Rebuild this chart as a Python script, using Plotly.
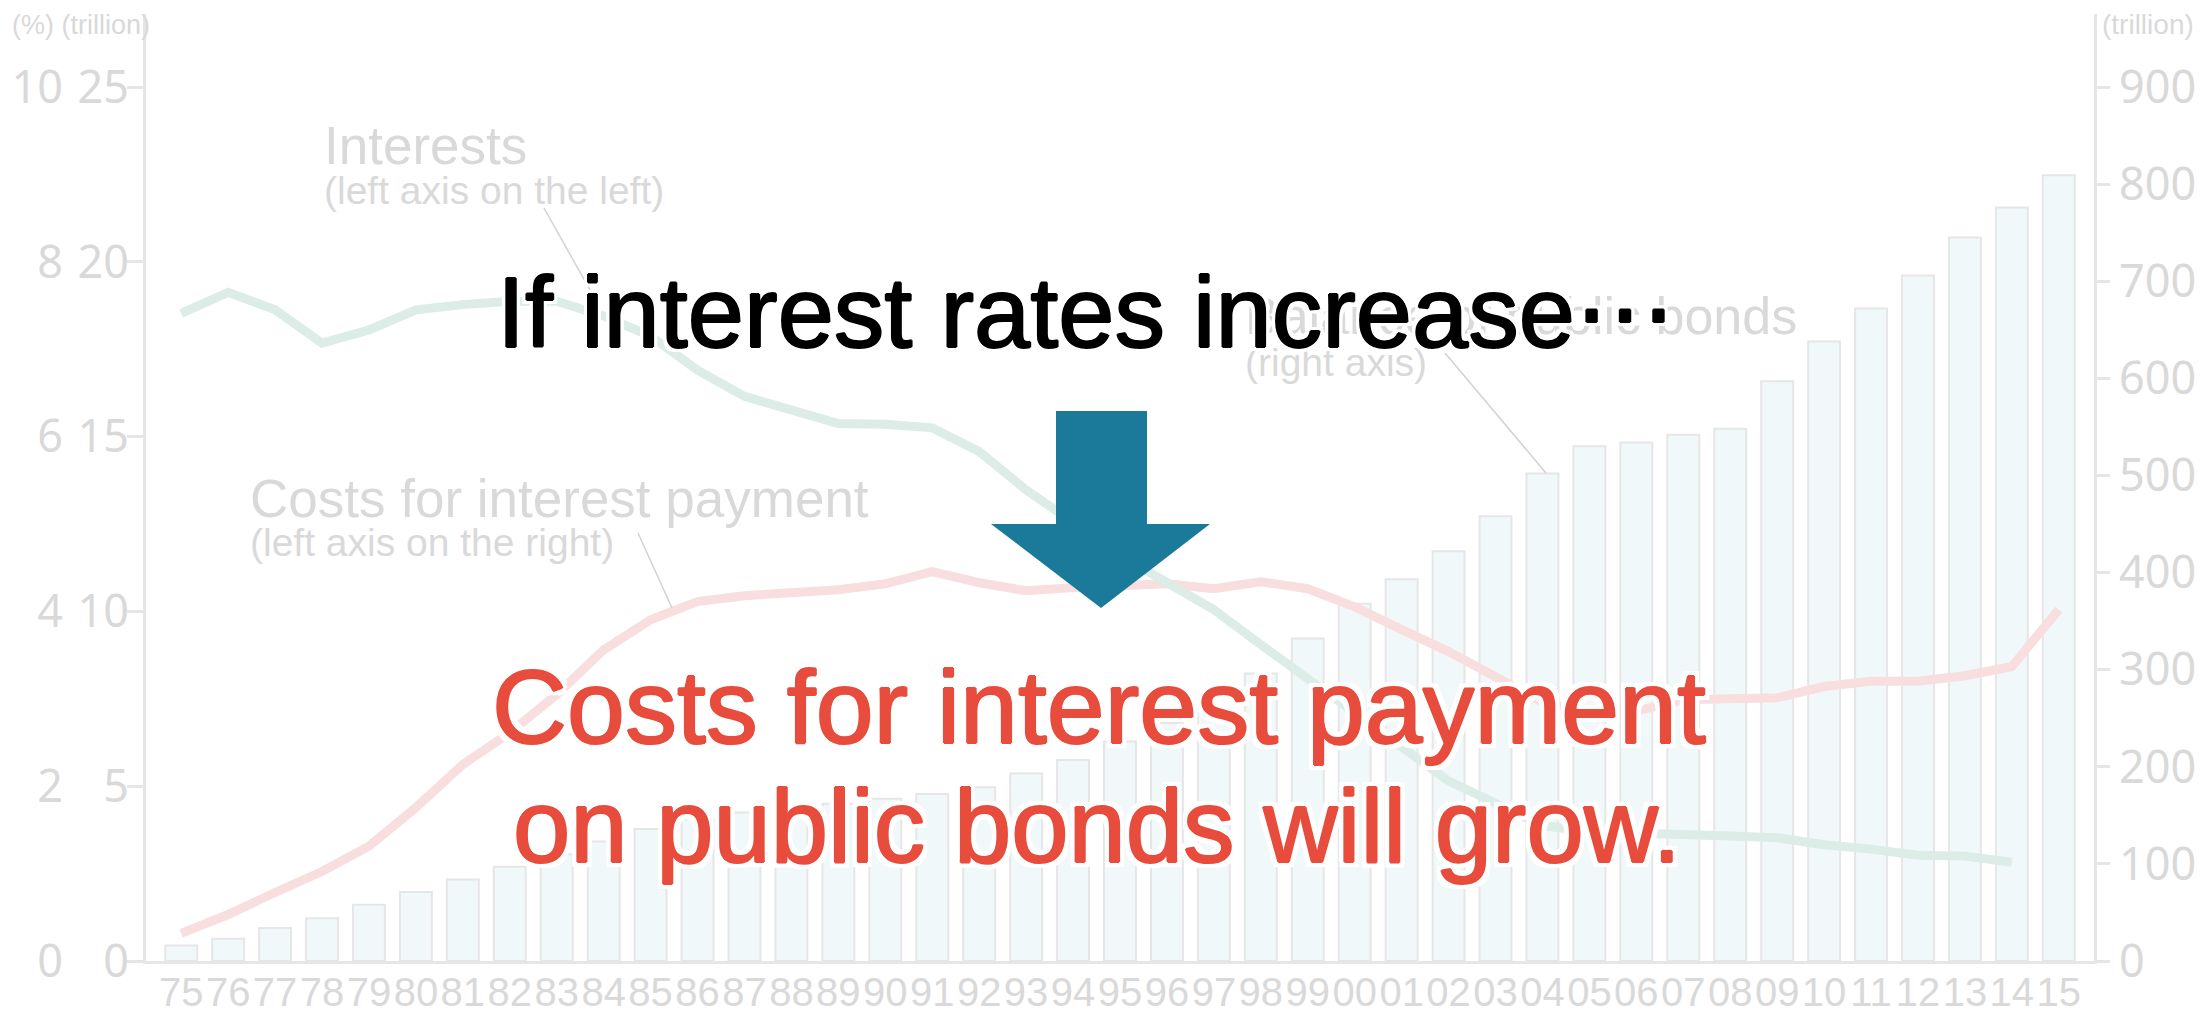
import plotly.graph_objects as go

# ---- data -------------------------------------------------------------
years = ["75", "76", "77", "78", "79", "80", "81", "82", "83", "84",
         "85", "86", "87", "88", "89", "90", "91", "92", "93", "94",
         "95", "96", "97", "98", "99", "00", "01", "02", "03", "04",
         "05", "06", "07", "08", "09", "10", "11", "12", "13", "14", "15"]

# outstanding public bonds, trillion (right axis)
public_bonds = [16, 23, 34, 44, 58, 71, 84, 97, 110, 123,
                136, 146, 153, 158, 162, 167, 172, 179, 193, 207,
                226, 245, 258, 296, 332, 368, 393, 422, 458, 502,
                530, 534, 542, 548, 597, 638, 672, 706, 745, 776, 809]

# average interest rate, % (left axis, left column)
interest_rate = [7.41, 7.65, 7.45, 7.07, 7.22, 7.45, 7.51, 7.55, 7.55, 7.38,
                 7.15, 6.76, 6.46, 6.31, 6.15, 6.14, 6.10, 5.83, 5.39, 5.02,
                 4.65, 4.33, 4.02, 3.62, 3.22, 2.85, 2.45, 2.06, 1.80, 1.55,
                 1.48, 1.47, 1.45, 1.43, 1.41, 1.33, 1.28, 1.21, 1.20, 1.13, None]

# interest payment costs, trillion (left axis, right column)
interest_cost = [0.79, 1.33, 1.96, 2.56, 3.28, 4.39, 5.62, 6.53, 7.62, 8.90,
                 9.76, 10.28, 10.45, 10.53, 10.62, 10.79, 11.14, 10.82, 10.59, 10.68,
                 10.73, 10.79, 10.65, 10.85, 10.65, 10.13, 9.48, 8.85, 8.13, 7.40,
                 7.10, 7.15, 7.47, 7.50, 7.53, 7.85, 8.00, 8.00, 8.16, 8.42, 10.05]

pct_ticks = [0, 2, 4, 6, 8, 10]
trillion_ticks = [0, 5, 10, 15, 20, 25]
bond_ticks = [0, 100, 200, 300, 400, 500, 600, 700, 800, 900]

# ---- geometry ---------------------------------------------------------
W, H = 2201, 1017
ML, MR, MT, MB = 20, 107, 14, 56
PW = W - ML - MR
PH = H - MT - MB
PLOT_LEFT = 146
# headroom above the top tick (top tick sits 874 px above the baseline)
HEAD = PH / 874.0


def px(x):
    return (x - ML) / PW


def py(y):
    return (H - MB - y) / PH


GRAY_TXT = "#d9d9d9"
AXIS = "#e6e6e6"
GREEN = "#dcece6"
PINK = "#f8dede"
BAR_FILL = "#f1f8fa"
BLUE = "#1b7a99"
RED = "#e74c3c"

fig = go.Figure()

fig.add_trace(go.Bar(
    x=years, y=public_bonds, yaxis="y", width=0.68,
    marker=dict(color=BAR_FILL, line=dict(color=AXIS, width=2)),
    showlegend=False, hoverinfo="skip"))

fig.add_trace(go.Scatter(
    x=years, y=interest_cost, yaxis="y2", mode="lines",
    line=dict(color=PINK, width=9), showlegend=False, hoverinfo="skip"))

fig.add_trace(go.Scatter(
    x=years, y=interest_rate, yaxis="y3", mode="lines",
    line=dict(color=GREEN, width=9), showlegend=False, hoverinfo="skip"))

tick_font = dict(family="Noto Sans, Liberation Sans, sans-serif", size=45, color=GRAY_TXT)

fig.update_layout(
    width=W, height=H,
    margin=dict(l=ML, r=MR, t=MT, b=MB, pad=0),
    paper_bgcolor="white", plot_bgcolor="white",
    bargap=0.3,
    xaxis=dict(
        domain=[px(PLOT_LEFT), 1], type="category",
        range=[-0.75, len(years) - 0.25],
        tickmode="array", tickvals=years, ticktext=years, tickangle=0,
        showline=True, linecolor=AXIS, linewidth=3,
        showgrid=False, zeroline=False, ticks="",
        ticklabelstandoff=-6,
        tickfont=dict(family="Liberation Sans, Arial, sans-serif",
                      size=40, color=GRAY_TXT),
        automargin=False),
    yaxis=dict(
        side="right", anchor="x", range=[0, 900 * HEAD],
        tickvals=bond_ticks, ticks="outside", ticklen=13, tickwidth=3,
        tickcolor=AXIS, showline=True, linecolor=AXIS, linewidth=3,
        showgrid=False, zeroline=False, tickfont=tick_font, automargin=False),
    yaxis2=dict(
        side="left", anchor="x", overlaying="y", range=[0, 25 * HEAD],
        tickvals=trillion_ticks, ticks="outside", ticklen=16, tickwidth=3,
        tickcolor=AXIS, showline=True, linecolor=AXIS, linewidth=3,
        ticklabelstandoff=-11,
        showgrid=False, zeroline=False, tickfont=tick_font, automargin=False),
    yaxis3=dict(
        side="left", anchor="free", overlaying="y", position=px(63),
        range=[0, 10 * HEAD], tickvals=pct_ticks, ticks="",
        showline=False, showgrid=False, zeroline=False,
        tickfont=tick_font, automargin=False),
)

shapes = []
# leader lines from the series labels
for (x0, y0, x1, y1) in [(544, 208, 590, 290), (638, 533, 672, 608), (1445, 353, 1546, 473)]:
    shapes.append(dict(type="line", xref="paper", yref="paper",
                       x0=px(x0), y0=py(y0), x1=px(x1), y1=py(y1),
                       line=dict(color="#d2d2d2", width=1.5), layer="above"))

# downward arrow
arrow_pts = [(1056, 411), (1147, 411), (1147, 524), (1210, 524),
             (1101, 608), (991, 524), (1056, 524)]
path = "M " + " L ".join(f"{px(x):.5f},{py(y):.5f}" for x, y in arrow_pts) + " Z"
shapes.append(dict(type="path", xref="paper", yref="paper", path=path,
                   fillcolor=BLUE, line=dict(width=0), layer="above"))
fig.update_layout(shapes=shapes)

label_font = "Liberation Sans, Arial, sans-serif"


def note(text, x, y, size, color, xanchor="left", family=label_font, shadow=None):
    f = dict(family=family, size=size, color=color)
    if shadow:
        f["shadow"] = shadow
    fig.add_annotation(text=text, x=px(x), y=py(y), xref="paper", yref="paper",
                       xanchor=xanchor, yanchor="middle", showarrow=False,
                       font=f)


# axis unit labels
note("(%) (trillion)", 10, 25, 27, GRAY_TXT)
note("(trillion)", 2100, 25, 28, GRAY_TXT)

# series labels
note("Interests", 322, 145, 53, GRAY_TXT)
note("(left axis on the left)", 322, 190, 39, GRAY_TXT)
note("Costs for interest payment", 248, 498, 53, GRAY_TXT)
note("(left axis on the right)", 248, 542, 39, GRAY_TXT)
note("Balance of public bonds", 1243, 316, 52, GRAY_TXT)
note("(right axis)", 1243, 362, 39, GRAY_TXT)


def halo(color, inner, r):
    parts = [f"{dx}px {dy}px 0 {color}" for dx, dy in
             [(1, 0), (-1, 0), (0, 1), (0, -1)]] if inner else []
    parts += [f"{dx}px {dy}px 0 white" for dx, dy in
              [(r, 0), (-r, 0), (0, r), (0, -r), (r, r), (-r, -r), (r, -r), (-r, r)]]
    return ", ".join(parts)


ell = '<span style="font-family:\'DejaVu Sans\'">⋯</span>'
note("If interest rates increase" + ell, 495, 312, 101, "black",
     shadow=halo("black", True, 4))
note("Costs for interest payment", 1099, 707, 104, RED, xanchor="center",
     shadow=halo(RED, True, 5))
note("on public bonds will grow.", 1097, 826, 103, RED, xanchor="center",
     shadow=halo(RED, True, 5))

fig.write_html("out.html")
